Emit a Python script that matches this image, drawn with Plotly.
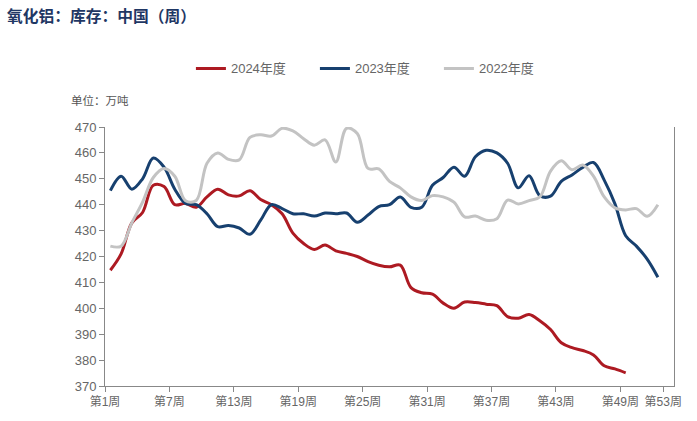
import plotly.graph_objects as go

weeks = list(range(1, 53))
week_labels = ["第1周", "第7周", "第13周", "第19周", "第25周", "第31周", "第37周", "第43周", "第49周", "第53周"]
label_weeks = [1, 7, 13, 19, 25, 31, 37, 43, 49, 53]

s2024 = [414.7, 421, 433, 437, 447.5, 447, 440, 440.5, 439, 443, 446, 443.8, 443.4,
         445.4, 442, 440, 436.5, 429, 425, 422.7, 424.4, 422.2, 421.2, 420, 418, 416.6,
         416, 416.7, 408, 406, 405.5, 402, 400, 402.4, 402.2, 401.6, 401, 396.8, 396.2,
         397.6, 395.2, 391.8, 386.7, 384.8, 383.7, 382, 377.8, 376.6, 375.1]
s2023 = [445.4, 451, 446, 450, 458, 454.5, 446, 440.5, 440, 436.5, 431.5, 432, 431,
         428.6, 434, 440, 438.5, 436.5, 436.5, 435.6, 436.8, 436.5, 436.8, 433.2, 436, 439.3,
         440, 443, 439, 439, 447.5, 450.5, 454.5, 451, 458.5, 461, 460, 456, 446.5,
         451.2, 443.5, 443.3, 449, 451.5, 454.4, 456.3, 449.5, 440.3, 428, 424, 419, 412]
s2022 = [424, 424, 433, 441, 450.5, 454, 451, 441.5, 441.6, 456, 460, 457.5, 457.3,
         466, 467, 466.5, 469.5, 468.5, 465.5, 463, 465, 456.5, 469.5, 467.5, 454, 453.8,
         449, 446.5, 443, 441.6, 443.5, 443, 441, 435.3, 435.6, 434, 434.6, 441.8, 440.3,
         441.6, 443, 453, 457, 453.5, 455.3, 451, 443, 438.8, 438, 438.5, 435.5, 440]

series = [("2024年度", s2024, "#ad1a22"), ("2023年度", s2023, "#17406f"), ("2022年度", s2022, "#c3c3c3")]

fig = go.Figure()
for name, vals, color in series:
    fig.add_trace(go.Scatter(
        x=weeks[:len(vals)], y=vals, name=name, mode="lines",
        line=dict(color=color, width=3, shape="spline", smoothing=1.0),
    ))

font_family = "Liberation Sans, Noto Sans CJK SC, sans-serif"
fig.update_layout(
    width=697, height=421,
    margin=dict(l=105, r=23, t=127, b=32),
    paper_bgcolor="white", plot_bgcolor="white",
    font=dict(family=font_family, color="#666666", size=12),
    showlegend=True,
    legend=dict(orientation="h", x=0.151, xanchor="left", y=1.226, yanchor="middle",
                font=dict(size=13, color="#666666"), entrywidth=79, entrywidthmode="pixels",
                tracegroupgap=0),
    annotations=[
        dict(text="<b>氧化铝：库存：中国（周）</b>", xref="paper", yref="paper",
             x=-0.175, y=1.43, xanchor="left", yanchor="middle", showarrow=False,
             font=dict(size=15.75, color="#1f3764", family="Noto Sans CJK SC")),
        dict(text="单位：万吨", xref="paper", yref="paper",
             x=-0.064, y=1.103, xanchor="left", yanchor="middle", showarrow=False,
             font=dict(size=11.5, color="#555555", family="Noto Sans CJK SC")),
    ],
)
fig.update_xaxes(
    range=[0.5, 53.5],
    tickvals=[w - 0.5 for w in label_weeks], ticktext=week_labels,
    showgrid=False, zeroline=False,
    showline=True, linecolor="#888888", linewidth=1,
    ticks="outside", ticklen=5, tickcolor="#888888",
    tickfont=dict(size=12, color="#666666", family=font_family),
)
fig.update_yaxes(
    range=[370, 470], dtick=10,
    showgrid=False, zeroline=False,
    showline=True, linecolor="#888888", linewidth=1, mirror=True,
    ticks="outside", ticklen=5, tickcolor="#888888",
    tickfont=dict(size=13, color="#666666", family=font_family),
)
fig.write_html("out.html", config={"displayModeBar": False},
               post_script="document.body.style.margin='0';")
